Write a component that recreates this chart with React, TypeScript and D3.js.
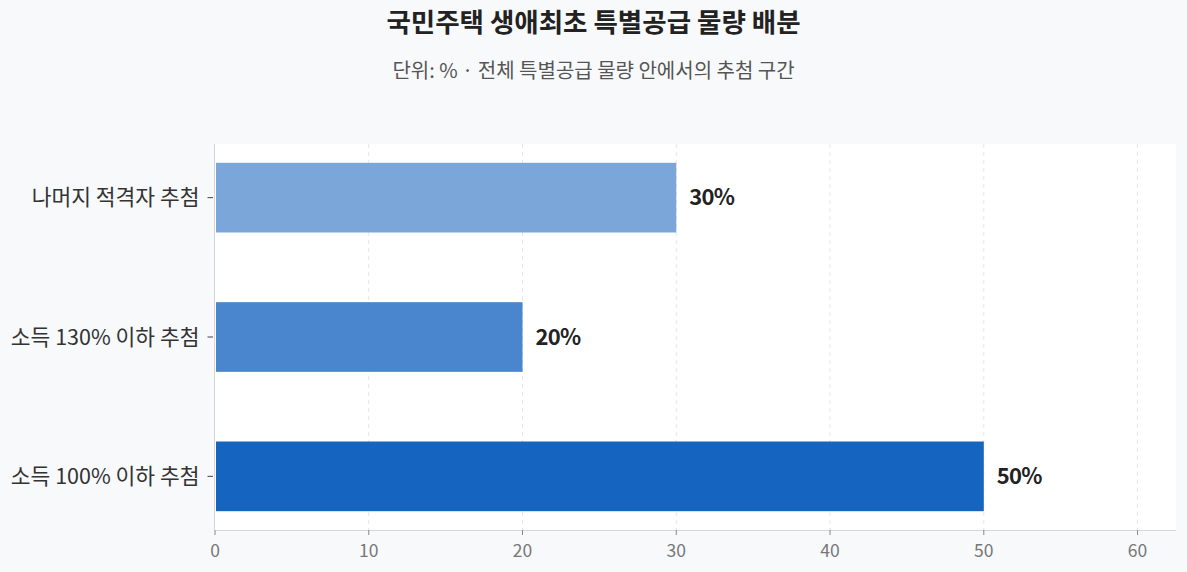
import React, { useEffect, useRef } from "react";
import * as d3 from "d3";

const categories = ["나머지 적격자 추첨", "소득 130% 이하 추첨", "소득 100% 이하 추첨"];
const values = [30, 20, 50];
const colors = ["#7BA6DA", "#4A86CE", "#1565C0"];
const xTicks = [0, 10, 20, 30, 40, 50, 60];

const W = 1187, H = 572;
const FONT = "'Noto Sans CJK KR', 'Noto Sans', sans-serif";

export default function App() {
  const ref = useRef<SVGSVGElement>(null);
  useEffect(() => {
    const svg = d3.select(ref.current);
    svg.selectAll("*").remove();
    const m = { left: 215, right: 1176, top: 144, bottom: 530 };
    svg.append("rect").attr("width", W).attr("height", H).attr("fill", "#F8F9FB");
    svg.append("rect").attr("x", m.left).attr("y", m.top).attr("width", m.right - m.left).attr("height", m.bottom - m.top).attr("fill", "#fff");

    const x = d3.scaleLinear().domain([0, 62.5]).range([m.left, m.right]);
    const y = d3.scaleBand<string>().domain(categories).range([m.top, m.bottom]).paddingInner(0.5).paddingOuter(0.135);

    // grid
    svg.append("g").selectAll("line").data(xTicks.slice(1)).join("line")
      .attr("x1", d => x(d)).attr("x2", d => x(d)).attr("y1", m.top).attr("y2", m.bottom)
      .attr("stroke", "#e6e6e6").attr("stroke-dasharray", "4,4").attr("stroke-width", 1);

    // bars
    svg.append("g").selectAll("rect").data(categories).join("rect")
      .attr("x", x(0) + 1).attr("y", d => y(d)!)
      .attr("width", (d, i) => x(values[i]) - x(0) - 1).attr("height", y.bandwidth())
      .attr("fill", (d, i) => colors[i]);

    // value labels
    svg.append("g").selectAll("text").data(categories).join("text")
      .attr("x", (d, i) => x(values[i]) + 13).attr("y", d => y(d)! + y.bandwidth() / 2)
      .attr("dy", "0.35em").attr("font-family", FONT).attr("font-weight", 700)
      .attr("font-size", 22).attr("fill", "#222").attr("letter-spacing", -0.8)
      .text((d, i) => `${values[i]}%`);

    // axes lines
    svg.append("line").attr("x1", m.left).attr("x2", m.right).attr("y1", m.bottom + 0.5).attr("y2", m.bottom + 0.5).attr("stroke", "#d6d6d6");
    svg.append("line").attr("x1", m.left - 0.5).attr("x2", m.left - 0.5).attr("y1", m.top).attr("y2", m.bottom).attr("stroke", "#d6d6d6");

    // x ticks
    const xt = svg.append("g");
    xTicks.forEach(t => {
      xt.append("line").attr("x1", x(t)).attr("x2", x(t)).attr("y1", m.bottom).attr("y2", m.bottom + 5).attr("stroke", "#888");
      xt.append("text").attr("x", x(t)).attr("y", m.bottom + 27).attr("text-anchor", "middle")
        .attr("font-family", FONT).attr("font-size", 17.5).attr("fill", "#777").text(t);
    });

    // y labels
    const yt = svg.append("g");
    categories.forEach(c => {
      const cy = y(c)! + y.bandwidth() / 2;
      yt.append("line").attr("x1", m.left - 7.5).attr("x2", m.left - 2).attr("y1", cy).attr("y2", cy).attr("stroke", "#444");
      yt.append("text").attr("x", m.left - 15.5).attr("y", cy).attr("dy", "0.35em").attr("text-anchor", "end")
        .attr("font-family", FONT).attr("font-size", 21.5).attr("fill", "#333").text(c);
    });

    svg.append("text").attr("x", W / 2).attr("y", 32).attr("text-anchor", "middle")
      .attr("font-family", FONT).attr("font-weight", 700).attr("font-size", 26.5).attr("fill", "#222")
      .text("국민주택 생애최초 특별공급 물량 배분");
    svg.append("text").attr("x", W / 2).attr("y", 78).attr("text-anchor", "middle")
      .attr("font-family", FONT).attr("font-size", 20).attr("fill", "#555")
      .text("단위: % · 전체 특별공급 물량 안에서의 추첨 구간");
  }, []);
  return <svg ref={ref} width={W} height={H} style={{ display: "block", position: "absolute", left: 0, top: 0 }} />;
}
